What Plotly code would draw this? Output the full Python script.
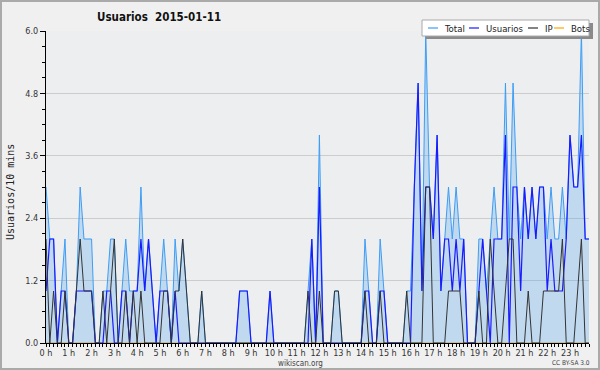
import plotly.graph_objects as go

# 10-minute slots, 0h00 .. 23h50 (144 values)
total = [3,2,2,0,1,2, 0,0,1,3,2,2, 2,0,0,1,1,2, 2,0,1,2,1,1,
         1,3,1,2,1,0, 1,2,1,0,2,1, 2,1,0,0,0,1, 0,0,0,0,0,0,
         0,0,0,1,1,1, 0,0,0,0,0,1, 0,0,0,0,0,0, 0,0,0,1,2,0,
         4,0,0,0,1,1, 0,0,0,0,0,0, 2,1,0,0,2,1, 0,0,0,0,0,1,
         1,3,5,1,6,3, 2,4,1,2,3,2, 3,2,2,0,0,0, 2,2,1,2,3,2,
         2,5,2,5,3,2, 3,2,3,2,3,3, 2,3,2,2,3,2, 4,3,3,6,2,2]
usuarios = [1,2,2,0,1,1, 0,0,1,1,1,1, 1,0,0,0,1,1, 0,0,1,1,0,1,
            1,2,1,2,1,0, 1,1,1,0,1,0, 0,0,0,0,0,0, 0,0,0,0,0,0,
            0,0,0,1,1,1, 0,0,0,0,0,1, 0,0,0,0,0,0, 0,0,0,0,2,0,
            3,0,0,0,0,0, 0,0,0,0,0,0, 1,1,0,0,1,1, 0,0,0,0,0,0,
            0,3,5,1,3,3, 2,4,1,2,2,1, 2,1,2,0,0,0, 1,2,1,0,2,2,
            2,4,0,3,3,1, 3,2,3,2,3,3, 1,2,1,1,1,2, 4,3,3,4,2,2]
ip = [2,0,1,0,0,1, 0,0,1,2,1,1, 1,0,0,1,0,1, 2,0,0,1,0,1,
      0,1,0,0,0,0, 0,1,1,0,1,1, 2,1,0,0,0,1, 0,0,0,0,0,0,
      0,0,0,0,0,0, 0,0,0,0,0,0, 0,0,0,0,0,0, 0,0,0,1,0,0,
      1,0,0,0,1,1, 0,0,0,0,0,0, 1,0,0,0,1,0, 0,0,0,0,0,1,
      0,0,0,0,3,3, 0,0,0,0,1,1, 1,1,0,0,0,0, 1,0,0,2,1,0,
      0,1,2,2,0,0, 0,1,0,0,0,1, 1,1,1,1,2,0, 0,0,1,2,0,0]
bots = [0] * 144
hours = [i / 6 for i in range(144)]
hour_ticks = list(range(24))
hour_labels = [f"{h} h" for h in hour_ticks]
y_ticks = [0, 1.2, 2.4, 3.6, 4.8, 6.0]
y_labels = ["0.0", "1.2", "2.4", "3.6", "4.8", "6.0"]
series_names = ["Total", "Usuarios", "IP", "Bots"]
series_colors = ["#3d9df5", "#1a1aff", "#333333", "#ffa500"]

FONT = "DejaVu Sans Condensed, Liberation Sans Narrow, DejaVu Sans"

fig = go.Figure()
fig.add_trace(go.Scatter(x=hours, y=bots, name="Bots", mode="lines",
                         line=dict(color=series_colors[3], width=1)))
fig.add_trace(go.Scatter(x=hours, y=total, name="Total", mode="lines",
                         line=dict(color=series_colors[0], width=1),
                         fill="tozeroy", fillcolor="rgba(60,150,240,0.24)"))
fig.add_trace(go.Scatter(x=hours, y=usuarios, name="Usuarios", mode="lines",
                         line=dict(color=series_colors[1], width=1.2)))
fig.add_trace(go.Scatter(x=hours, y=ip, name="IP", mode="lines",
                         line=dict(color=series_colors[2], width=1)))

L, R, T, B = 46, 11, 31, 27
W, H = 600 - L - R, 370 - T - B


def px(x):
    return (x - L) / W


def py(y):
    return (370 - B - y) / H


fig.update_layout(
    width=600, height=370,
    margin=dict(l=L, r=R, t=T, b=B, autoexpand=False),
    paper_bgcolor="#f0f0f0", plot_bgcolor="#eceef0",
    font=dict(family=FONT, size=9, color="#333"),
    showlegend=False,
    xaxis=dict(range=[0, 143 / 6], tickmode="array", tickvals=hour_ticks, ticktext=hour_labels,
               showgrid=False, zeroline=False, showline=True, linecolor="black", linewidth=1,
               ticks="outside", ticklen=3, tickcolor="black", automargin=False,
               ticklabelstandoff=-2,
               minor=dict(dtick=1 / 6, ticks="outside", ticklen=3, tickcolor="black", showgrid=False),
               tickfont=dict(family=FONT, size=9, color="#333")),
    yaxis=dict(range=[0, 6.0], tickmode="array", tickvals=y_ticks, ticktext=y_labels,
               showgrid=True, gridcolor="#cccccc", gridwidth=1, zeroline=False,
               showline=True, linecolor="black", linewidth=1, automargin=False,
               ticks="outside", ticklen=5, tickcolor="black",
               minor=dict(dtick=0.3, ticks="outside", ticklen=3, tickcolor="black", showgrid=False),
               tickfont=dict(family=FONT, size=9, color="#333")),
)

# outer border
fig.add_shape(type="rect", xref="paper", yref="paper",
              x0=px(1), x1=px(599), y0=py(369), y1=py(1),
              line=dict(color="#aaaaaa", width=2), layer="below")

# title
fig.add_annotation(text="<b>Usuarios  2015-01-11</b>", xref="paper", yref="paper",
                   x=px(159), y=py(17), xanchor="center", yanchor="middle",
                   showarrow=False, font=dict(family=FONT, size=11.5, color="#111"))
# y axis title
fig.add_annotation(text="Usuarios/10 mins", xref="paper", yref="paper",
                   x=px(11), y=py(192), xanchor="center", yanchor="middle", textangle=-90,
                   showarrow=False, font=dict(family="DejaVu Sans Mono", size=10, color="#222"))
# footer
fig.add_annotation(text="wikiscan.org", xref="paper", yref="paper",
                   x=px(300), y=py(363), xanchor="center", yanchor="middle",
                   showarrow=False, font=dict(family=FONT, size=8, color="#444"))
fig.add_annotation(text="CC BY-SA 3.0", xref="paper", yref="paper",
                   x=px(592), y=py(363), xanchor="right", yanchor="middle",
                   showarrow=False, font=dict(family=FONT, size=6.5, color="#444"))

# custom legend box with shadow
fig.add_shape(type="rect", xref="paper", yref="paper",
              x0=px(426), x1=px(593), y0=py(39), y1=py(23),
              line=dict(width=0), fillcolor="#8a8a8a", layer="above")
fig.add_shape(type="rect", xref="paper", yref="paper",
              x0=px(422), x1=px(589), y0=py(36), y1=py(20),
              line=dict(color="#aaaaaa", width=1), fillcolor="white", layer="above")
leg_line_x = [428, 469, 528, 554]
leg_text_x = [442, 484, 543, 569]
for name, col, lx, tx in zip(series_names, series_colors, leg_line_x, leg_text_x):
    fig.add_shape(type="line", xref="paper", yref="paper",
                  x0=px(lx), x1=px(lx + 10), y0=py(28), y1=py(28),
                  line=dict(color=col, width=1.2), layer="above")
    fig.add_annotation(text=name, xref="paper", yref="paper",
                       x=px(tx), y=py(28), xanchor="left", yanchor="middle",
                       showarrow=False, font=dict(family=FONT, size=9.5, color="#222"))

fig.write_html("out.html", config={"displayModeBar": False},
               post_script="document.body.style.margin='0';")
